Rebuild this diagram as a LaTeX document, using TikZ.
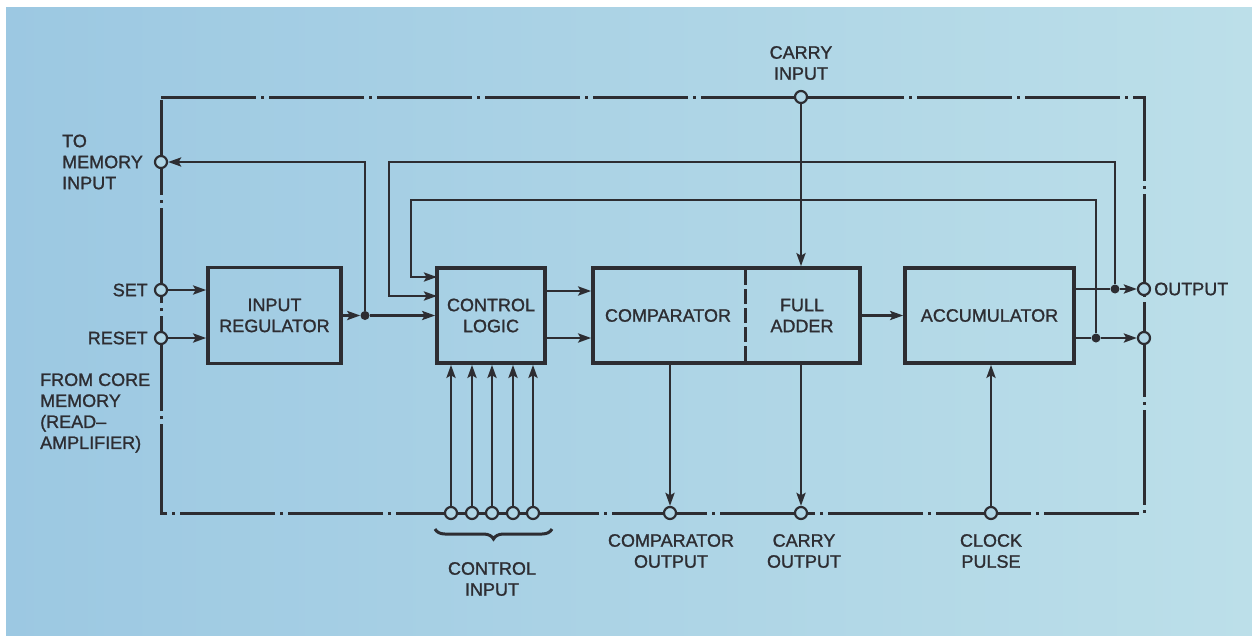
\documentclass[tikz,border=0pt]{standalone}
\usepackage{fontspec}
\setmainfont{Liberation Sans}[FakeBold=1.2]
\usetikzlibrary{arrows.meta,decorations.pathreplacing}
\definecolor{ink}{RGB}{45,45,50}
\definecolor{bgl}{RGB}{156,200,226}
\definecolor{bgr}{RGB}{188,223,233}
\definecolor{bgm}{RGB}{176,214,230}
\begin{document}
\begin{tikzpicture}[x=1pt,y=-1pt,
  every node/.style={font=\fontsize{18}{21}\selectfont, text=ink},
  blk/.style={draw=ink, line width=3.6pt, inner sep=0pt, align=center},
  wire/.style={draw=ink, line width=2.6pt},
  arr/.style={wire, -{Stealth[length=13pt,width=9pt,inset=2.5pt]}},
  term/.style={circle, draw=ink, fill=bgm, line width=2.2pt, minimum size=12pt, inner sep=0pt},
  jdot/.style={circle, fill=ink, minimum size=9pt, inner sep=0pt},
  frm/.style={draw=ink, line width=3pt, dash pattern=on 95pt off 5pt on 3pt off 5pt},
  lbl/.style={align=center, inner sep=0pt},
  lbll/.style={align=left, inner sep=0pt}]
% background
\path[use as bounding box, fill=white] (0,0) rectangle (1252,635);
\shade[left color=bgl, right color=bgr] (6,7) rectangle (1252,635);
% outer dash-dot frame
\draw[frm] (161,97) -- (1144,97) -- (1144,513) -- (161,513) -- cycle;
\draw[wire, line width=3pt] (440,513) -- (545,513);
\draw[wire, line width=3pt] (770,97) -- (830,97);
% blocks
\node[blk, minimum width=133pt, minimum height=96pt] (ir) at (274.5,315.5) {INPUT\\REGULATOR};
\node[blk, minimum width=108pt, minimum height=95pt] (cl) at (491,315.5) {CONTROL\\LOGIC};
\node[blk, minimum width=267pt, minimum height=95pt] (cmp) at (726.5,315.5) {};
\node[lbl] (cmpt) at (668,315.5) {COMPARATOR};
\node[lbl] (fat) at (802,315.5) {FULL\\ADDER};
\draw[ink, line width=3pt, dash pattern=on 15pt off 4pt] (745,270) -- (745,361);
\node[blk, minimum width=169pt, minimum height=95pt] (acc) at (989.5,315.5) {ACCUMULATOR};
% terminals
\node[term] (tm) at (161,162) {};
\node[term] (setc) at (161,290) {};
\node[term] (resc) at (161,338) {};
\node[term] (cin) at (801,97) {};
\node[term] (o1) at (1144,289) {};
\node[term] (o2) at (1144,338) {};
\node[term] (co) at (670,513) {};
\node[term] (cao) at (801,513) {};
\node[term] (cp) at (991,513) {};
\foreach \i/\x in {1/451,2/472,3/492,4/513,5/533}
  \node[term] (ci\i) at (\x,513) {};
% junction dots
\node[jdot] (j1) at (365,315.5) {};
\node[jdot] (d1) at (1115,289) {};
\node[jdot] (d2) at (1096,338) {};
% helper coordinates
\coordinate (c1) at (389,162);
\coordinate (c2) at (411,200);
\coordinate (t1) at (437,296);
\coordinate (t2) at (437,277);
\coordinate (s1) at (545,291);
\coordinate (s2) at (545,338);
\coordinate (a1) at (1074,289);
\coordinate (a2) at (1074,338);
% connectors
\draw[arr] (setc) -- (setc -| ir.west);
\draw[arr] (resc) -- (resc -| ir.west);
\draw[arr] (ir.east) -- (j1);
\draw[arr] (j1) -- (cl.west);
\draw[arr] (j1) |- (tm);
\draw[wire] (a1) -- (d1);
\draw[arr] (d1) -- (o1);
\draw[wire] (a2) -- (d2);
\draw[arr] (d2) -- (o2);
\draw[arr] (d1) |- (c1) |- (t1);
\draw[arr] (d2) |- (c2) |- (t2);
\draw[arr] (s1) -- (s1 -| cmp.west);
\draw[arr] (s2) -- (s2 -| cmp.west);
\draw[arr] (cin) -- (cin |- cmp.north);
\draw[arr] (cmp.east) -- (acc.west);
\draw[arr] (co |- cmp.south) -- (co);
\draw[arr] (cao |- cmp.south) -- (cao);
\draw[arr] (cp) -- (cp |- acc.south);
\foreach \i in {1,...,5}
  \draw[arr] (ci\i) -- (ci\i |- cl.south);
% brace
\draw[ink, line width=3pt, decorate, decoration={brace, amplitude=10pt, mirror}] (435,529) -- (552,529);
% labels
\node[lbl] (lcin) at (801,63) {CARRY\\INPUT};
\node[lbll, anchor=west] (ltm) at (62,162) {TO\\MEMORY\\INPUT};
\node[lbl, anchor=east] (lset) at (148,290) {SET};
\node[lbl, anchor=east] (lres) at (148,338) {RESET};
\node[lbll, anchor=west] (lfc) at (40,413) {FROM CORE\\MEMORY\\(READ--\\AMPLIFIER)};
\node[lbll, anchor=west] (lout) at (1154,289) {OUTPUT};
\node[lbl] (lco) at (671,551) {COMPARATOR\\OUTPUT};
\node[lbl] (lcao) at (804,551) {CARRY\\OUTPUT};
\node[lbl] (lcp) at (991,551) {CLOCK\\PULSE};
\node[lbl] (lci) at (492,579) {CONTROL\\INPUT};
\end{tikzpicture}
\end{document}
